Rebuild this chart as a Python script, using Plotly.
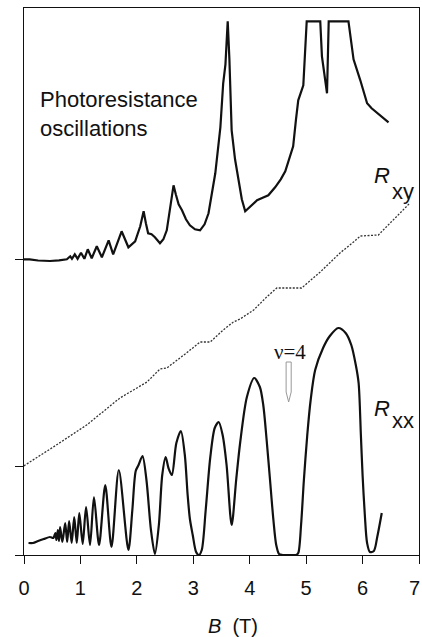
import plotly.graph_objects as go

# ---------------- data ----------------
# Rxx (bottom curve), B in tesla, arbitrary units
rxx_B = [0.08, 0.16, 0.25, 0.35, 0.46, 0.52, 0.556, 0.575, 0.60, 0.62, 0.64, 0.68, 0.73, 0.765,
         0.80, 0.845, 0.89, 0.935, 0.98, 1.04, 1.10, 1.17, 1.24, 1.33, 1.44, 1.55, 1.68, 1.85,
         1.92, 1.98, 2.03, 2.10, 2.17, 2.25, 2.32, 2.39, 2.45, 2.51, 2.56, 2.62, 2.70, 2.78,
         2.85, 2.90, 2.94, 2.99, 3.05, 3.10, 3.15, 3.22, 3.30, 3.38, 3.45, 3.52, 3.59, 3.68,
         3.76, 3.83, 3.95, 4.08, 4.18, 4.24, 4.30, 4.36, 4.42, 4.47, 4.52, 4.58, 4.70, 4.82,
         4.86, 4.91, 4.96, 5.02, 5.08, 5.16, 5.30, 5.42, 5.57, 5.70, 5.80, 5.88, 5.93, 5.97,
         6.00, 6.04, 6.08, 6.13, 6.20, 6.26, 6.34]
rxx_val = [0.12, 0.12, 0.14, 0.16, 0.18, 0.17, 0.22, 0.15, 0.25, 0.14, 0.28, 0.13, 0.32, 0.13,
           0.34, 0.12, 0.38, 0.12, 0.42, 0.11, 0.48, 0.10, 0.58, 0.10, 0.70, 0.08, 0.85, 0.05,
           0.45, 0.84, 0.90, 0.99, 0.75, 0.25, 0.01, 0.30, 0.80, 0.98, 0.87, 0.80, 1.12, 1.24,
           1.00, 0.60, 0.36, 0.20, 0.03, 0.00, 0.05, 0.45, 0.97, 1.27, 1.33, 1.20, 0.90, 0.30,
           0.75, 1.12, 1.58, 1.77, 1.68, 1.50, 1.15, 0.75, 0.35, 0.10, 0.01, 0.00, 0.00, 0.00,
           0.02, 0.30, 0.75, 1.20, 1.55, 1.85, 2.07, 2.19, 2.27, 2.22, 2.10, 1.90, 1.72, 1.20,
           0.80, 0.40, 0.12, 0.03, 0.04, 0.18, 0.42]

# Rxy (dotted Hall curve), relative to its own zero
rxy_B = [0.00, 0.02, 0.52, 1.11, 1.70, 2.18, 2.41, 2.53, 2.88, 3.12, 3.30, 3.53, 3.71, 3.83,
         4.07, 4.30, 4.48, 4.92, 5.25, 5.60, 5.84, 5.96, 6.28, 6.55, 6.84]
rxy_val = [0.00, 0.01, 0.19, 0.41, 0.68, 0.84, 0.97, 0.98, 1.13, 1.24, 1.24, 1.36, 1.44, 1.47,
           1.56, 1.69, 1.78, 1.78, 1.94, 2.13, 2.24, 2.30, 2.31, 2.46, 2.63]

# Photoresistance oscillations (top curve), relative to its own zero
pr_B = [0.00, 0.10, 0.25, 0.46, 0.62, 0.76, 0.80, 0.82, 0.85, 0.90, 0.95, 1.01, 1.07, 1.13,
        1.20, 1.29, 1.38, 1.50, 1.58, 1.73, 1.85, 1.92, 1.97, 2.06, 2.12, 2.16, 2.20, 2.26,
        2.32, 2.41, 2.47, 2.53, 2.60, 2.65, 2.69, 2.74, 2.80, 2.87, 2.94, 3.03, 3.12, 3.20,
        3.27, 3.33, 3.39, 3.48, 3.53, 3.57, 3.61, 3.64, 3.66, 3.68, 3.74, 3.80, 3.86, 3.92,
        4.00, 4.13, 4.25, 4.33, 4.45, 4.55, 4.63, 4.72, 4.77, 4.82, 4.86, 4.95, 5.01, 5.25,
        5.28, 5.37, 5.40, 5.75, 5.84, 5.96, 6.08, 6.16, 6.31, 6.46]
pr_val = [0.00, 0.00, -0.012, -0.017, -0.01, 0.00, 0.02, 0.03, 0.005, 0.05, 0.005, 0.066, 0.005, 0.10,
          0.01, 0.13, 0.02, 0.19, 0.05, 0.28, 0.12, 0.15, 0.18, 0.33, 0.48, 0.36, 0.26, 0.25,
          0.22, 0.16, 0.20, 0.29, 0.55, 0.74, 0.65, 0.55, 0.49, 0.40, 0.34, 0.30, 0.29, 0.35,
          0.46, 0.65, 0.86, 1.32, 1.76, 1.95, 2.38, 2.00, 1.70, 1.29, 1.00, 0.78, 0.60, 0.48,
          0.52, 0.59, 0.62, 0.64, 0.72, 0.80, 0.88, 1.03, 1.13, 1.40, 1.59, 1.74, 2.38, 2.38,
          2.03, 1.66, 2.38, 2.38, 2.00, 1.79, 1.56, 1.51, 1.44, 1.37]

# vertical offsets (zero levels) of the stacked curves
RXX_ZERO = 0.0
RXY_ZERO = 0.89
PR_ZERO = 2.957

x_ticks = [0, 1, 2, 3, 4, 5, 6, 7]
x_tick_labels = ["0", "1", "2", "3", "4", "5", "6", "7"]

# ---------------- figure ----------------
SANS = "Liberation Sans, Arial, Helvetica, sans-serif"
SERIF = "Liberation Serif, Times New Roman, serif"

fig = go.Figure()
fig.add_trace(go.Scatter(x=rxx_B, y=[v + RXX_ZERO for v in rxx_val], mode="lines",
                         line=dict(color="#111", width=2.2, shape="spline", smoothing=0.8),
                         hoverinfo="skip", showlegend=False))
fig.add_trace(go.Scatter(x=rxy_B, y=[v + RXY_ZERO for v in rxy_val], mode="lines",
                         line=dict(color="#333", width=1.3, dash="2px,1.5px"),
                         hoverinfo="skip", showlegend=False))
fig.add_trace(go.Scatter(x=pr_B, y=[v + PR_ZERO for v in pr_val], mode="lines",
                         line=dict(color="#111", width=2.2),
                         hoverinfo="skip", showlegend=False))

# hollow arrow below nu=4
AX, ATOP, ABOT, AHW, ATIP = 4.69, 1.93, 1.53, 0.045, 0.10
fig.add_shape(type="path", xref="x", yref="y",
              path=f"M {AX-AHW},{ATOP} L {AX+AHW},{ATOP} L {AX+AHW},{ABOT+ATIP} L {AX},{ABOT} "
                   f"L {AX-AHW},{ABOT+ATIP} Z",
              line=dict(color="#999", width=1), fillcolor="white")

ann = [
    dict(x=0.25, y=4.415, text="Photoresistance<br>oscillations", xanchor="left", yanchor="middle",
         align="left", font=dict(family=SANS, size=22, color="#111")),
    dict(x=6.17, y=3.80, text="<i>R</i>", xanchor="left", yanchor="middle",
         font=dict(family=SANS, size=22, color="#111")),
    dict(x=6.49, y=3.64, text="xy", xanchor="left", yanchor="middle",
         font=dict(family=SANS, size=22, color="#111")),
    dict(x=6.17, y=1.47, text="<i>R</i>", xanchor="left", yanchor="middle",
         font=dict(family=SANS, size=22, color="#111")),
    dict(x=6.49, y=1.35, text="xx", xanchor="left", yanchor="middle",
         font=dict(family=SANS, size=22, color="#111")),
    dict(x=4.72, y=2.03, text="\u03bd=4", xanchor="center", yanchor="middle",
         font=dict(family=SERIF, size=21, color="#111")),
    dict(x=3.70, y=-0.13, xref="x", yref="paper", text="<i>B</i>\u00a0\u00a0(T)",
         xanchor="center", yanchor="middle", font=dict(family=SANS, size=20, color="#111")),
    # last tick label, kept inside the page edge
    dict(x=x_ticks[-1], y=-0.0603, xref="x", yref="paper", text=x_tick_labels[-1],
         xanchor="right", yanchor="middle", xshift=2, borderpad=0,
         font=dict(family=SANS, size=20, color="#111")),
]
for a in ann:
    a.setdefault("xref", "x")
    a.setdefault("yref", "y")
    a["showarrow"] = False
    fig.add_annotation(**a)

fig.update_xaxes(range=[0, 7], tickvals=x_ticks,
                 ticktext=x_tick_labels[:-1] + [""], ticks="outside",
                 ticklen=8, tickwidth=1, tickcolor="#111", showline=True, linecolor="#111",
                 linewidth=1, mirror=True, showgrid=False, zeroline=False, automargin=False,
                 ticklabelstandoff=7,
                 tickfont=dict(family=SANS, size=20, color="#111"))
fig.update_yaxes(range=[0, 5.47], tickvals=[RXX_ZERO, RXY_ZERO, PR_ZERO],
                 ticktext=["", "", ""], ticks="outside", ticklen=8, tickwidth=1, automargin=False,
                 tickcolor="#111", showline=True, linecolor="#111", linewidth=1, mirror=True,
                 showgrid=False, zeroline=False)
fig.update_layout(width=422, height=637, autosize=False,
                  margin=dict(l=24, r=3, t=8, b=82, pad=0),
                  paper_bgcolor="white", plot_bgcolor="white")

fig.write_html("out.html", config={"displayModeBar": False},
               post_script="document.body.style.margin='0';document.body.style.overflow='hidden';")
